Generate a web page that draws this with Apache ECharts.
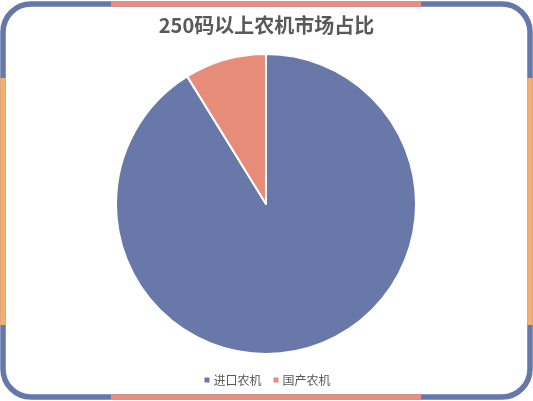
<!DOCTYPE html>
<html>
<head>
<meta charset="utf-8">
<script src="https://cdn.jsdelivr.net/npm/echarts@6/dist/echarts.min.js"></script>
<style>
html,body{margin:0;padding:0;background:#fff;}
#c{width:533px;height:401px;}
</style>
</head>
<body>
<div id="c"></div>
<script>
const titleText = "250码以上农机市场占比";
const categories = ["进口农机", "国产农机"];
const values = [91.2, 8.8];
const colors = ["#6778a9", "#e88c7a"];

const chart = echarts.init(document.getElementById('c'), null, {renderer: 'canvas'});
const W = 533, H = 401;
const lw = 5.5;
const borderBlue = "#6677aa", borderSalmon = "#e8907f", borderOrange = "#f6ae6a";
chart.setOption({
  backgroundColor: '#ffffff',
  animation: false,
  title: {
    text: titleText,
    left: 'center',
    top: 10,
    textStyle: {
      fontFamily: '"Noto Sans CJK SC", sans-serif',
      fontSize: 20,
      fontWeight: 'bold',
      color: '#595959'
    }
  },
  legend: {
    bottom: 10,
    left: 'center',
    icon: 'rect',
    itemWidth: 7,
    itemHeight: 7,
    itemGap: 10,
    textStyle: {
      fontFamily: '"Noto Sans CJK SC", sans-serif',
      fontSize: 12,
      color: '#595959',
      padding: [0, 0, 0, -2]
    },
    data: categories
  },
  series: [{
    type: 'pie',
    center: [266, 204],
    radius: 150,
    startAngle: 90,
    clockwise: true,
    label: {show: false},
    labelLine: {show: false},
    itemStyle: {borderColor: '#ffffff', borderWidth: 2},
    emphasis: {disabled: true},
    data: categories.map((n, i) => ({name: n, value: values[i], itemStyle: {color: colors[i]}}))
  }],
  graphic: [
    {type: 'rect', silent: true, z: 100,
     shape: {x: 3, y: 4, width: W - 6, height: H - 8, r: 28},
     style: {fill: null, stroke: borderBlue, lineWidth: lw}},
    {type: 'line', silent: true, z: 101,
     shape: {x1: 111, y1: 4, x2: 421, y2: 4},
     style: {stroke: borderSalmon, lineWidth: lw}},
    {type: 'line', silent: true, z: 101,
     shape: {x1: 111, y1: H - 4, x2: 421, y2: H - 4},
     style: {stroke: borderSalmon, lineWidth: lw}},
    {type: 'line', silent: true, z: 101,
     shape: {x1: 3, y1: 78, x2: 3, y2: 325},
     style: {stroke: borderOrange, lineWidth: lw}},
    {type: 'line', silent: true, z: 101,
     shape: {x1: W - 3, y1: 78, x2: W - 3, y2: 325},
     style: {stroke: borderOrange, lineWidth: lw}}
  ]
});
</script>
</body>
</html>
